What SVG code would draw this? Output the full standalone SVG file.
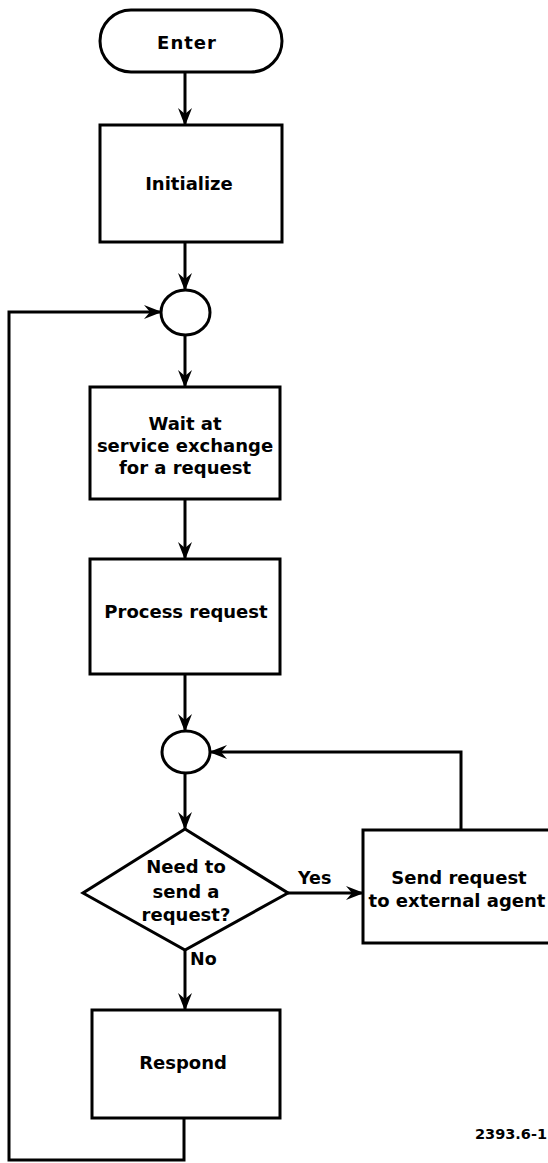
<svg xmlns="http://www.w3.org/2000/svg" width="548" height="1163" viewBox="0 0 548 1163">
<defs>
<style>
.shape{fill:#fff;stroke:#000;stroke-width:3}
.conn{fill:none;stroke:#000;stroke-width:3}
.t{font-family:"DejaVu Sans",Verdana,sans-serif;font-weight:bold;font-size:18px;fill:#000;text-anchor:middle}
.lab{font-family:"DejaVu Sans",Verdana,sans-serif;font-weight:bold;font-size:17.5px;fill:#000}
</style>
<marker id="arr" viewBox="0 0 18 14" refX="17" refY="7" markerWidth="18" markerHeight="14" markerUnits="userSpaceOnUse" orient="auto">
<path d="M0,0 L18,7 L0,14 L6,7 z" fill="#000"/>
</marker>
</defs>
<rect width="548" height="1163" fill="#fff"/>
<g id="connectors">
<line class="conn" x1="185" y1="72" x2="185" y2="125" marker-end="url(#arr)"/>
<line class="conn" x1="185" y1="242" x2="185" y2="290" marker-end="url(#arr)"/>
<line class="conn" x1="185" y1="335" x2="185" y2="387" marker-end="url(#arr)"/>
<line class="conn" x1="185" y1="499" x2="185" y2="559" marker-end="url(#arr)"/>
<line class="conn" x1="185" y1="674" x2="185" y2="731" marker-end="url(#arr)"/>
<line class="conn" x1="185" y1="773" x2="185" y2="829" marker-end="url(#arr)"/>
<line class="conn" x1="288" y1="893" x2="363" y2="893" marker-end="url(#arr)"/>
<line class="conn" x1="185" y1="950" x2="185" y2="1010" marker-end="url(#arr)"/>
<polyline class="conn" points="461,830 461,752 210,752" marker-end="url(#arr)"/>
<polyline class="conn" points="184,1118 184,1160 9,1160 9,312 161,312" marker-end="url(#arr)"/>
<text class="lab" x="298" y="884">Yes</text>
<text class="lab" x="190" y="965">No</text>
</g>
<g id="enter">
<rect class="shape" x="100" y="10" width="182" height="62" rx="31" ry="31"/>
<text class="t" x="187" y="49" letter-spacing="1">Enter</text>
</g>
<g id="initialize">
<rect class="shape" x="100" y="125" width="182" height="117"/>
<text class="t" x="189" y="190">Initialize</text>
</g>
<g id="junction1">
<ellipse class="shape" cx="185.5" cy="312.5" rx="24.5" ry="22.5"/>
</g>
<g id="wait">
<rect class="shape" x="90" y="387" width="190" height="112"/>
<text class="t" x="185" y="430">Wait at</text>
<text class="t" x="185" y="452">service exchange</text>
<text class="t" x="185" y="474">for a request</text>
</g>
<g id="process">
<rect class="shape" x="90" y="559" width="190" height="115"/>
<text class="t" x="186" y="618">Process request</text>
</g>
<g id="junction2">
<ellipse class="shape" cx="186" cy="752" rx="24" ry="21"/>
</g>
<g id="decision">
<polygon class="shape" points="185,829 288,893 185,950 83,893"/>
<text class="t" x="186" y="873">Need to</text>
<text class="t" x="186" y="898">send a</text>
<text class="t" x="186" y="921">request?</text>
</g>
<g id="send">
<rect class="shape" x="363" y="830" width="190" height="113"/>
<text class="t" x="459" y="884">Send request</text>
<text class="t" x="457" y="907">to external agent</text>
</g>
<g id="respond">
<rect class="shape" x="92" y="1010" width="188" height="108"/>
<text class="t" x="183" y="1069">Respond</text>
</g>
<text x="475" y="1139" font-family="DejaVu Sans,sans-serif" font-weight="bold" font-size="14.5px" fill="#000">2393.6-1</text>
</svg>
